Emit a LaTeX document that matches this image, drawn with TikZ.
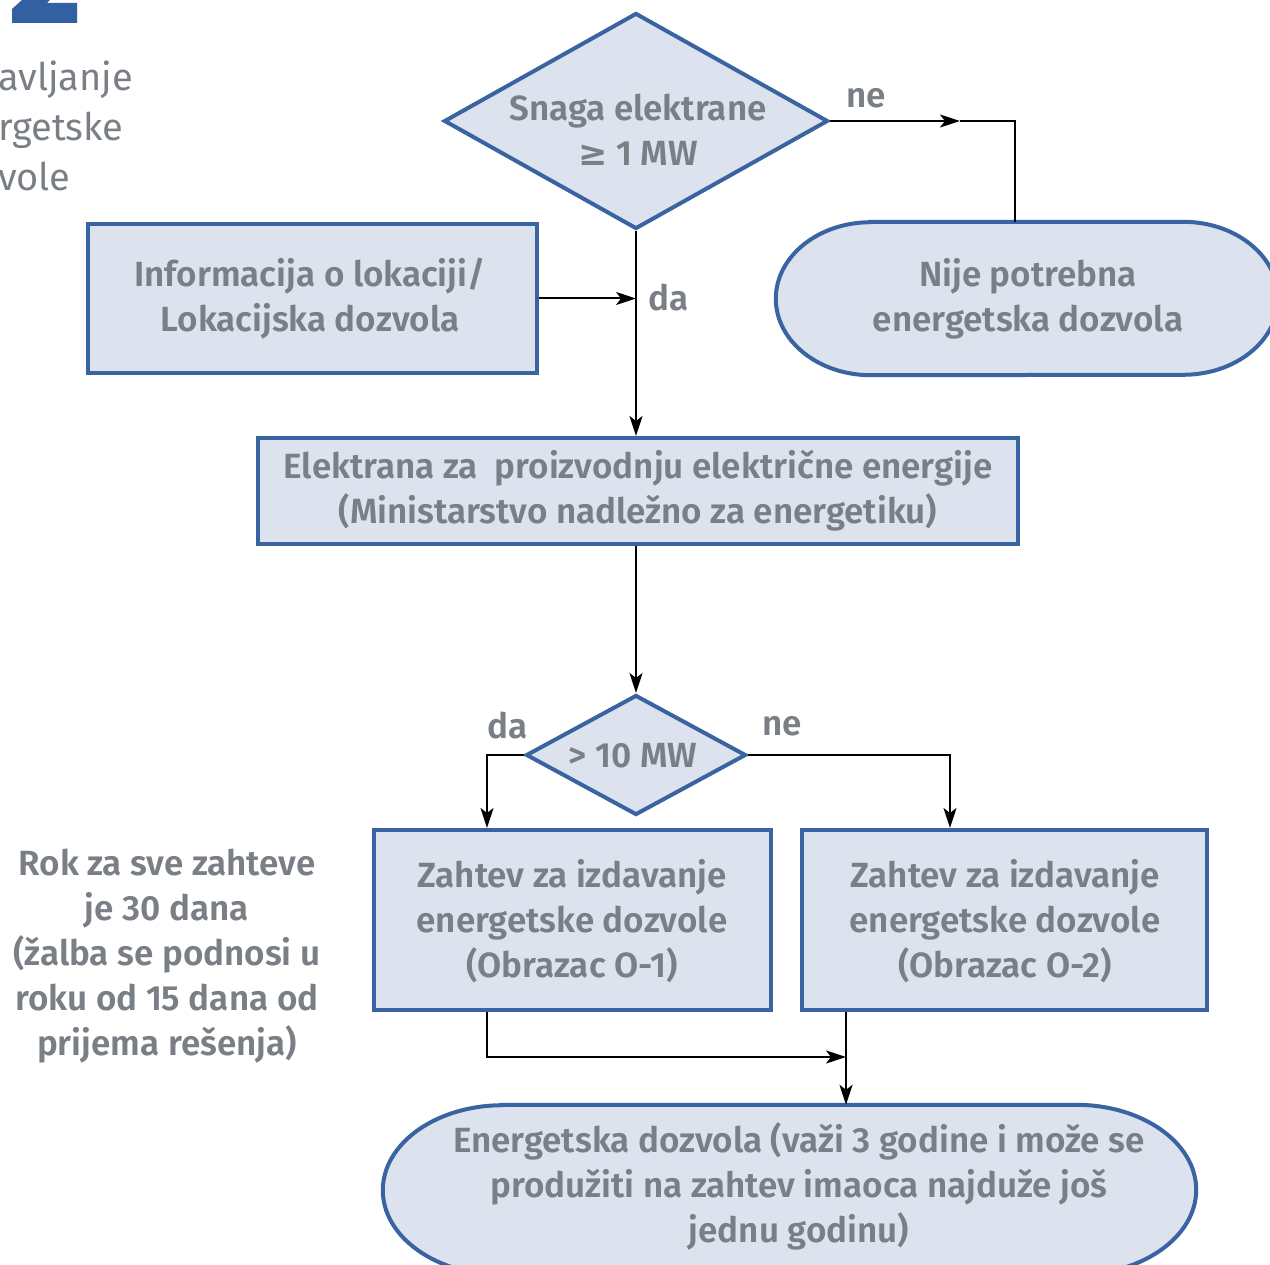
\documentclass[tikz,border=0pt]{standalone}
\usepackage{fontspec}
\setmainfont{Fira Sans}[BoldFont={Fira Sans SemiBold}]
\newfontfamily\symf{DejaVu Sans}
\usetikzlibrary{shapes.geometric,arrows.meta,calc}
\definecolor{boxfill}{HTML}{DCE2EE}
\definecolor{boxline}{HTML}{3A63A1}
\definecolor{txtgray}{HTML}{7A7F86}
\definecolor{numblue}{HTML}{3360A3}
\tikzset{
  boxstyle/.style={draw=boxline, fill=boxfill, line width=4pt, rectangle, inner sep=0pt},
  diastyle/.style={draw=boxline, fill=boxfill, line width=4pt, diamond, inner sep=0pt, shape aspect=1},
  termline/.style={draw=boxline, fill=boxfill, line width=4pt},
  txt/.style={text=txtgray, font=\bfseries\fontsize{35}{45}\selectfont, align=center, inner sep=0pt},
  lbl/.style={text=txtgray, font=\bfseries\fontsize{35}{40}\selectfont, inner sep=0pt},
  conn/.style={draw=black, line width=2pt},
  arr/.style={conn, -{Stealth[length=20pt,width=13pt,inset=5pt]}},
}
\begin{document}
\begin{tikzpicture}[x=1pt,y=-1pt]
\useasboundingbox (0,0) rectangle (1270,1265);
\begin{scope}
\clip (0,0) rectangle (1270,1265);
% partial big number
\fill[numblue] (12,23) -- (77,23) -- (77,3) -- (47,3) -- (50,0) -- (22,0) -- (12,9) -- cycle;
% clipped title text
\node[anchor=west, text=txtgray, font=\fontsize{38}{50}\selectfont, align=left, inner sep=0pt] (title) at (-2,126) {avljanje\\rgetske\\vole};

% nodes
\node[diastyle, minimum width=384pt, minimum height=216pt] (d1) at (636,121) {};
\node[txt] (d1t) at (638,130) {Snaga elektrane\\{\symf ≥} 1 MW};

\node[boxstyle, minimum width=449pt, minimum height=149pt] (b1) at (312.5,298.5) {};
\node[txt] (b1t) at (310,299) {Informacija o lokaciji/\\Lokacijska dozvola};

\node[draw=none, minimum width=502pt, minimum height=153pt, inner sep=0pt] (t1) at (1027,298.5) {};
\draw[termline] ([xshift=95pt]t1.north west) -- ([xshift=-95pt]t1.north east)
  arc[start angle=90, end angle=-90, x radius=95pt, y radius=76.5pt]
  -- ([xshift=95pt]t1.south west)
  arc[start angle=270, end angle=90, x radius=95pt, y radius=76.5pt] -- cycle;
\node[txt] (t1t) at (1028,299) {Nije potrebna\\energetska dozvola};

\node[boxstyle, minimum width=760pt, minimum height=106pt] (b2) at (638,491) {};
\node[txt] (b2t) at (638,491) {Elektrana za\ \ proizvodnju električne energije\\(Ministarstvo nadležno za energetiku)};

\node[diastyle, minimum width=220pt, minimum height=120pt] (d2) at (636,755) {};
\node[txt] (d2t) at (633,756) {> 10 MW};

\node[boxstyle, minimum width=397pt, minimum height=180pt] (b3) at (572.5,920) {};
\node[txt] (b3t) at (572,921) {Zahtev za izdavanje\\energetske dozvole\\(Obrazac O-1)};

\node[boxstyle, minimum width=405pt, minimum height=180pt] (b4) at (1004.5,920) {};
\node[txt] (b4t) at (1005,921) {Zahtev za izdavanje\\energetske dozvole\\(Obrazac O-2)};

\node[txt] (note) at (167,956) {Rok za sve zahteve\\je 30 dana\\(žalba se podnosi u\\roku od 15 dana od\\prijema rešenja)};

\node[draw=none, minimum width=813pt, minimum height=170pt, inner sep=0pt] (t2) at (789.5,1190) {};
\draw[termline] ([xshift=120pt]t2.north west) -- ([xshift=-120pt]t2.north east)
  arc[start angle=90, end angle=-90, x radius=120pt, y radius=85pt]
  -- ([xshift=120pt]t2.south west)
  arc[start angle=270, end angle=90, x radius=120pt, y radius=85pt] -- cycle;
\node[txt] (t2t) at (799,1186) {Energetska dozvola (važi 3 godine i može se\\produžiti na zahtev imaoca najduže još\\jednu godinu)};

% labels
\node[lbl] (ne1) at (866,98) {ne};
\node[lbl] (da1) at (669,298) {da};
\node[lbl] (da2) at (508,726) {da};
\node[lbl] (ne2) at (782,726) {ne};

% connectors
\coordinate (neMid) at (960,121);
\draw[arr] (d1.east) -- (neMid);
\draw[conn] (neMid) -| ([xshift=-12pt]t1.north);
\draw[arr] (b1.east) -- (b1.east -| d1.south);
\draw[arr] (d1.south) -- ([xshift=-2pt]b2.north);
\draw[arr] ([xshift=-2pt]b2.south) -- (d2.north);
\draw[arr] (d2.west) -| ([xshift=-85.5pt]b3.north);
\draw[arr] (d2.east) -| ([xshift=-54.5pt]b4.north);
\coordinate (botJoin) at (846,1057);
\draw[arr] ([xshift=-85.5pt]b3.south) |- (botJoin);
\draw[arr] ([xshift=-158.5pt]b4.south) -- (t2.north -| botJoin);
\end{scope}
\end{tikzpicture}
\end{document}
